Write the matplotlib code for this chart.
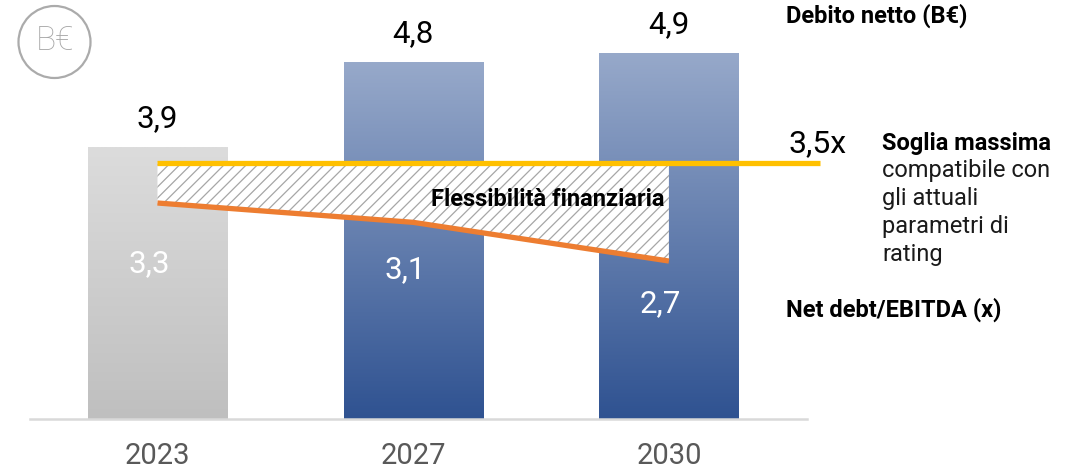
import matplotlib
matplotlib.use("Agg")
import matplotlib.pyplot as plt
import numpy as np
from matplotlib.colors import LinearSegmentedColormap
from matplotlib.patches import Circle

plt.rcParams['font.family'] = ['Roboto', 'DejaVu Sans']
plt.rcParams['hatch.linewidth'] = 0.9
plt.rcParams['hatch.color'] = '#a6a6a6'

# ---- data ----
years = ['2023', '2027', '2030']
debt = [3.9, 4.8, 4.9]                 # Debito netto (B€)
ratio = [3.3, 3.1, 2.7]                # Net debt/EBITDA (x)
threshold = 3.5                        # Soglia massima
debt_labels = ['3,9', '4,8', '4,9']
ratio_labels = ['3,3', '3,1', '2,7']
threshold_label = '3,5x'

W, H = 1082, 471
fig = plt.figure(figsize=(W / 100, H / 100), dpi=100)

def fx(px):
    return px / W

def fy(py):
    return 1 - py / H

# main axes: x from 30px to 807px, baseline 419px, top 0px
left, right, base, top = 30, 807, 419, 0
ax = fig.add_axes([fx(left), fy(base), fx(right - left), (base - top) / H])
x = np.arange(len(years))
XL = (-0.4985, 2.54)
YL = (1.02, 1.02 + (base - top) / 94.4)

grey_cmap = LinearSegmentedColormap.from_list('g', ['#bfbfbf', '#dcdcdc'])
blue_cmap = LinearSegmentedColormap.from_list('b', ['#2f5291', '#97a9ca'])
cmaps = [grey_cmap, blue_cmap, blue_cmap]

bars = ax.bar(x, debt, width=0.545, color='none', edgecolor='none', zorder=2)
for b, cm in zip(bars, cmaps):
    bx, bw, bh = b.get_x(), b.get_width(), b.get_height()
    grad = np.linspace(0, 1, 256).reshape(-1, 1)
    im = ax.imshow(grad, cmap=cm, origin='lower', aspect='auto',
                   extent=[bx, bx + bw, YL[0], bh], zorder=2)
    im.set_clip_path(b)
ax.set_xlim(*XL)
ax.set_ylim(*YL)

for xi, v, lab in zip(x, debt, debt_labels):
    ax.annotate(lab, (xi, v), xytext=(0, 14.4), textcoords='offset points',
                ha='center', va='baseline', fontsize=22.5, color='black')

for s in ['top', 'left', 'right']:
    ax.spines[s].set_visible(False)
ax.spines['bottom'].set_color('#d9d9d9')
ax.spines['bottom'].set_linewidth(1.8)
ax.set_yticks([])
ax.set_xticks(x)
ax.set_xticklabels(years, fontsize=21, color='#595959')
ax.tick_params(axis='x', length=0, pad=16.5)

# secondary axis for ratio
ax2 = ax.twinx()
ax2.set_ylim(3.3 - (base - 203) / 96.7, 3.3 + 203 / 96.7)
ax2.axis('off')
# third axis for threshold level
ax3 = ax.twinx()
ax3.set_ylim(threshold - (base - 162.5) / 96.7, threshold + 162.5 / 96.7)
ax3.axis('off')
for a in (ax2, ax3):
    a.set_xlim(*XL)

# threshold level expressed in ax2 data units via transforms
disp = ax3.transData.transform((0, threshold))
thr_in_ax2 = ax2.transData.inverted().transform(disp)[1]

ax2.fill_between(x, ratio, [thr_in_ax2] * len(x), facecolor='white',
                 hatch='///', edgecolor='#a6a6a6', linewidth=0, zorder=3)
ax2.plot(x, ratio, color='#ed7d31', lw=3.8, solid_capstyle='butt', zorder=4)
ax3.plot([0, 2.59], [threshold, threshold], color='#ffc000', lw=3.8,
         solid_capstyle='butt', clip_on=False, zorder=5)

label_offsets = [(-6, -50), (-6, -40), (-6, -37)]
for xi, v, lab, off in zip(x, ratio, ratio_labels, label_offsets):
    ax2.annotate(lab, (xi, v), xytext=off, textcoords='offset points',
                 ha='center', va='baseline', fontsize=22.5, color='white', zorder=6)

ax2.text(1.984, (ratio[2] + thr_in_ax2) / 2 + 0.13, 'Flessibilità finanziaria',
         ha='right', va='center', fontsize=17, fontweight='bold', color='black', zorder=6)

# annotations in figure pixel space
ov = fig.add_axes([0, 0, 1, 1])
ov.set_xlim(0, W)
ov.set_ylim(H, 0)
ov.axis('off')
ov.patch.set_alpha(0)

ov.add_patch(Circle((54.5, 42), 36, fill=False, edgecolor='#ababab', lw=1.6))
ov.text(54.5, 41.5, 'B€', ha='center', va='center', fontsize=24, color='#a6a6a6',
        fontweight='light')

ov.text(786, 23, 'Debito netto (B€)', fontsize=17, fontweight='bold', va='baseline')
ov.text(788, 152, threshold_label, fontsize=23, va='baseline')
ov.text(882, 150, 'Soglia massima', fontsize=17, fontweight='bold', va='baseline')
for i, line in enumerate(['compatibile con', 'gli attuali', 'parametri di', 'rating']):
    ov.text(882, 177.5 + i * 27.8, line, fontsize=17, va='baseline', color='#1a1a1a')
ov.text(786, 317, 'Net debt/EBITDA (x)', fontsize=17, fontweight='bold', va='baseline')

fig.savefig('out.png', dpi=100)
